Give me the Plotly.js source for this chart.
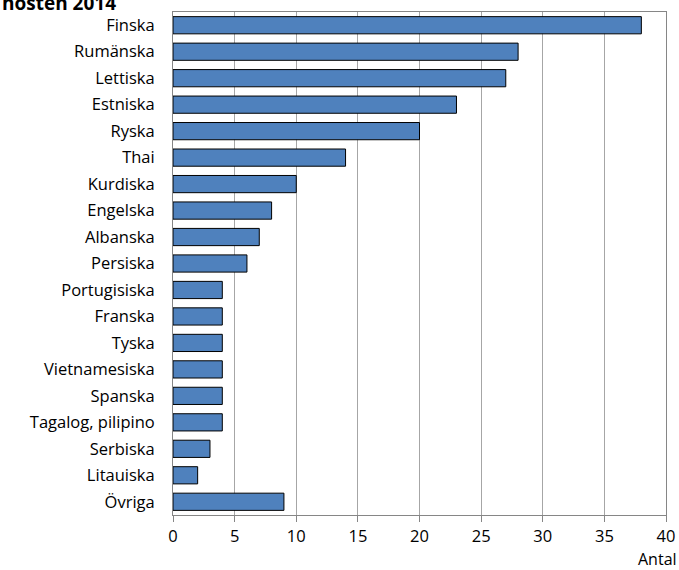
<!DOCTYPE html>
<html><head><meta charset="utf-8">
<script src="https://cdn.plot.ly/plotly-3.0.1.min.js"></script>
<style>body{margin:0;padding:0;background:#fff}#chart{width:679px;height:570px}</style>
</head><body><div id="chart"></div>
<script>
const categories = ["Finska","Rumänska","Lettiska","Estniska","Ryska","Thai","Kurdiska","Engelska","Albanska","Persiska","Portugisiska","Franska","Tyska","Vietnamesiska","Spanska","Tagalog, pilipino","Serbiska","Litauiska","Övriga"];
const values = [38,28,27,23,20,14,10,8,7,6,4,4,4,4,4,4,3,2,9];
const xTicks = [0,5,10,15,20,25,30,35,40];
const titleText = "hösten 2014";
const xLabel = "Antal";

const font = {family: "'Open Sans', sans-serif", size: 16.5, color: "#000"};
Plotly.newPlot("chart", [{
  type: "bar", orientation: "h",
  y: categories, x: values,
  marker: {color: "#4F81BD", line: {color: "#000", width: 1}},
  hoverinfo: "none"
}], {
  width: 679, height: 570,
  margin: {l: 173, r: 13, t: 12, b: 55},
  paper_bgcolor: "#fff", plot_bgcolor: "#fff",
  font: font,
  bargap: 0.35,
  showlegend: false,
  xaxis: {range: [0, 40], tickvals: xTicks, ticks: "outside", ticklen: 6, tickcolor: "#868686",
    showgrid: true, gridcolor: "#A6A6A6", gridwidth: 1, showline: true, linecolor: "#868686", mirror: true,
    zeroline: false, fixedrange: true, tickfont: font},
  yaxis: {autorange: "reversed", ticks: "", showline: true, linecolor: "#868686", mirror: true,
    ticklabelstandoff: 14, tickfont: font, fixedrange: true},
  annotations: [
    {text: "<b>" + titleText + "</b>", xref: "paper", yref: "paper", x: -173/493, xanchor: "left",
     y: 1 + 9/503, yanchor: "middle", showarrow: false, font: {family: font.family, size: 19, color: "#000"}},
    {text: xLabel, xref: "paper", yref: "paper", x: 1 + 13/493, xanchor: "right", y: -31/503, yanchor: "top",
     showarrow: false, font: {family: font.family, size: 16, color: "#000"}}
  ]
}, {displayModeBar: false, staticPlot: true});
</script></body></html>
